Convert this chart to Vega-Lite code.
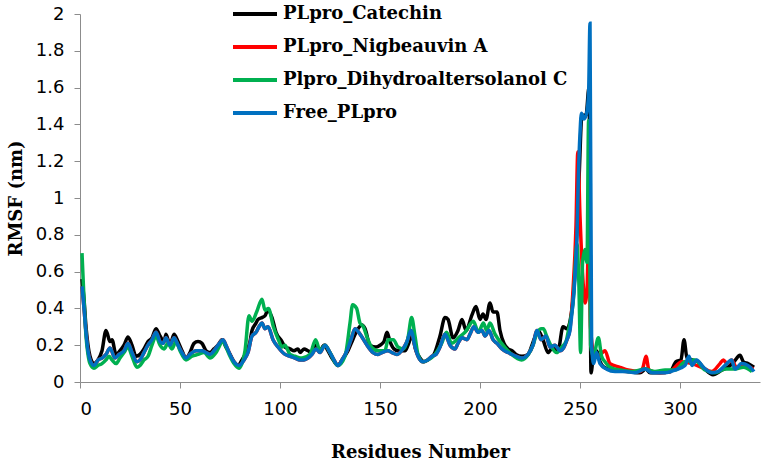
{
  "$schema": "https://vega.github.io/schema/vega-lite/v6.json",
  "width": 680,
  "height": 368,
  "autosize": "none",
  "padding": {"left": 80, "top": 14, "right": 5, "bottom": 80},
  "data": {
    "values": [
      {"series": "PLpro_Catechin", "residue": 1, "rmsf": 0.56},
      {"series": "PLpro_Catechin", "residue": 2, "rmsf": 0.45},
      {"series": "PLpro_Catechin", "residue": 3, "rmsf": 0.3},
      {"series": "PLpro_Catechin", "residue": 4, "rmsf": 0.2},
      {"series": "PLpro_Catechin", "residue": 5, "rmsf": 0.14},
      {"series": "PLpro_Catechin", "residue": 7, "rmsf": 0.1},
      {"series": "PLpro_Catechin", "residue": 9, "rmsf": 0.12},
      {"series": "PLpro_Catechin", "residue": 11, "rmsf": 0.17},
      {"series": "PLpro_Catechin", "residue": 13, "rmsf": 0.28},
      {"series": "PLpro_Catechin", "residue": 15, "rmsf": 0.22},
      {"series": "PLpro_Catechin", "residue": 16, "rmsf": 0.23},
      {"series": "PLpro_Catechin", "residue": 18, "rmsf": 0.15},
      {"series": "PLpro_Catechin", "residue": 20, "rmsf": 0.17},
      {"series": "PLpro_Catechin", "residue": 22, "rmsf": 0.2},
      {"series": "PLpro_Catechin", "residue": 24, "rmsf": 0.245},
      {"series": "PLpro_Catechin", "residue": 26, "rmsf": 0.2},
      {"series": "PLpro_Catechin", "residue": 28, "rmsf": 0.14},
      {"series": "PLpro_Catechin", "residue": 30, "rmsf": 0.15},
      {"series": "PLpro_Catechin", "residue": 32, "rmsf": 0.18},
      {"series": "PLpro_Catechin", "residue": 34, "rmsf": 0.22},
      {"series": "PLpro_Catechin", "residue": 36, "rmsf": 0.24},
      {"series": "PLpro_Catechin", "residue": 38, "rmsf": 0.29},
      {"series": "PLpro_Catechin", "residue": 40, "rmsf": 0.25},
      {"series": "PLpro_Catechin", "residue": 42, "rmsf": 0.22},
      {"series": "PLpro_Catechin", "residue": 43, "rmsf": 0.26},
      {"series": "PLpro_Catechin", "residue": 45, "rmsf": 0.2},
      {"series": "PLpro_Catechin", "residue": 47, "rmsf": 0.26},
      {"series": "PLpro_Catechin", "residue": 49, "rmsf": 0.22},
      {"series": "PLpro_Catechin", "residue": 51, "rmsf": 0.17},
      {"series": "PLpro_Catechin", "residue": 53, "rmsf": 0.13},
      {"series": "PLpro_Catechin", "residue": 55, "rmsf": 0.16},
      {"series": "PLpro_Catechin", "residue": 57, "rmsf": 0.21},
      {"series": "PLpro_Catechin", "residue": 59, "rmsf": 0.22},
      {"series": "PLpro_Catechin", "residue": 61, "rmsf": 0.21},
      {"series": "PLpro_Catechin", "residue": 63, "rmsf": 0.17},
      {"series": "PLpro_Catechin", "residue": 65, "rmsf": 0.16},
      {"series": "PLpro_Catechin", "residue": 67, "rmsf": 0.18},
      {"series": "PLpro_Catechin", "residue": 69, "rmsf": 0.2},
      {"series": "PLpro_Catechin", "residue": 71, "rmsf": 0.23},
      {"series": "PLpro_Catechin", "residue": 73, "rmsf": 0.19},
      {"series": "PLpro_Catechin", "residue": 75, "rmsf": 0.15},
      {"series": "PLpro_Catechin", "residue": 77, "rmsf": 0.11},
      {"series": "PLpro_Catechin", "residue": 79, "rmsf": 0.09},
      {"series": "PLpro_Catechin", "residue": 81, "rmsf": 0.12},
      {"series": "PLpro_Catechin", "residue": 83, "rmsf": 0.16},
      {"series": "PLpro_Catechin", "residue": 85, "rmsf": 0.22},
      {"series": "PLpro_Catechin", "residue": 86, "rmsf": 0.28},
      {"series": "PLpro_Catechin", "residue": 88, "rmsf": 0.32},
      {"series": "PLpro_Catechin", "residue": 89, "rmsf": 0.34},
      {"series": "PLpro_Catechin", "residue": 91, "rmsf": 0.35},
      {"series": "PLpro_Catechin", "residue": 92.5, "rmsf": 0.36},
      {"series": "PLpro_Catechin", "residue": 94, "rmsf": 0.39},
      {"series": "PLpro_Catechin", "residue": 96, "rmsf": 0.35},
      {"series": "PLpro_Catechin", "residue": 98, "rmsf": 0.27},
      {"series": "PLpro_Catechin", "residue": 101, "rmsf": 0.22},
      {"series": "PLpro_Catechin", "residue": 102.5, "rmsf": 0.19},
      {"series": "PLpro_Catechin", "residue": 105, "rmsf": 0.18},
      {"series": "PLpro_Catechin", "residue": 107, "rmsf": 0.17},
      {"series": "PLpro_Catechin", "residue": 109, "rmsf": 0.18},
      {"series": "PLpro_Catechin", "residue": 110, "rmsf": 0.16},
      {"series": "PLpro_Catechin", "residue": 112, "rmsf": 0.18},
      {"series": "PLpro_Catechin", "residue": 114, "rmsf": 0.17},
      {"series": "PLpro_Catechin", "residue": 116, "rmsf": 0.16},
      {"series": "PLpro_Catechin", "residue": 118, "rmsf": 0.2},
      {"series": "PLpro_Catechin", "residue": 120, "rmsf": 0.17},
      {"series": "PLpro_Catechin", "residue": 122, "rmsf": 0.2},
      {"series": "PLpro_Catechin", "residue": 124, "rmsf": 0.17},
      {"series": "PLpro_Catechin", "residue": 126, "rmsf": 0.13},
      {"series": "PLpro_Catechin", "residue": 129, "rmsf": 0.09},
      {"series": "PLpro_Catechin", "residue": 131, "rmsf": 0.12},
      {"series": "PLpro_Catechin", "residue": 134, "rmsf": 0.17},
      {"series": "PLpro_Catechin", "residue": 136, "rmsf": 0.22},
      {"series": "PLpro_Catechin", "residue": 138, "rmsf": 0.27},
      {"series": "PLpro_Catechin", "residue": 141, "rmsf": 0.31},
      {"series": "PLpro_Catechin", "residue": 142.5, "rmsf": 0.29},
      {"series": "PLpro_Catechin", "residue": 145, "rmsf": 0.2},
      {"series": "PLpro_Catechin", "residue": 148, "rmsf": 0.19},
      {"series": "PLpro_Catechin", "residue": 150, "rmsf": 0.2},
      {"series": "PLpro_Catechin", "residue": 152, "rmsf": 0.22},
      {"series": "PLpro_Catechin", "residue": 153.5, "rmsf": 0.27},
      {"series": "PLpro_Catechin", "residue": 155, "rmsf": 0.22},
      {"series": "PLpro_Catechin", "residue": 157, "rmsf": 0.18},
      {"series": "PLpro_Catechin", "residue": 159, "rmsf": 0.17},
      {"series": "PLpro_Catechin", "residue": 162.5, "rmsf": 0.17},
      {"series": "PLpro_Catechin", "residue": 164, "rmsf": 0.2},
      {"series": "PLpro_Catechin", "residue": 166, "rmsf": 0.25},
      {"series": "PLpro_Catechin", "residue": 168, "rmsf": 0.17},
      {"series": "PLpro_Catechin", "residue": 170, "rmsf": 0.13},
      {"series": "PLpro_Catechin", "residue": 172, "rmsf": 0.11},
      {"series": "PLpro_Catechin", "residue": 175, "rmsf": 0.13},
      {"series": "PLpro_Catechin", "residue": 177, "rmsf": 0.15},
      {"series": "PLpro_Catechin", "residue": 180, "rmsf": 0.25},
      {"series": "PLpro_Catechin", "residue": 182.5, "rmsf": 0.35},
      {"series": "PLpro_Catechin", "residue": 184, "rmsf": 0.34},
      {"series": "PLpro_Catechin", "residue": 186.5, "rmsf": 0.24},
      {"series": "PLpro_Catechin", "residue": 189, "rmsf": 0.28},
      {"series": "PLpro_Catechin", "residue": 191, "rmsf": 0.34},
      {"series": "PLpro_Catechin", "residue": 193, "rmsf": 0.28},
      {"series": "PLpro_Catechin", "residue": 196, "rmsf": 0.365},
      {"series": "PLpro_Catechin", "residue": 198, "rmsf": 0.41},
      {"series": "PLpro_Catechin", "residue": 200, "rmsf": 0.34},
      {"series": "PLpro_Catechin", "residue": 201.5, "rmsf": 0.37},
      {"series": "PLpro_Catechin", "residue": 203, "rmsf": 0.34},
      {"series": "PLpro_Catechin", "residue": 205, "rmsf": 0.43},
      {"series": "PLpro_Catechin", "residue": 206.5, "rmsf": 0.38},
      {"series": "PLpro_Catechin", "residue": 208.5, "rmsf": 0.38},
      {"series": "PLpro_Catechin", "residue": 210, "rmsf": 0.28},
      {"series": "PLpro_Catechin", "residue": 212, "rmsf": 0.21},
      {"series": "PLpro_Catechin", "residue": 214, "rmsf": 0.18},
      {"series": "PLpro_Catechin", "residue": 216, "rmsf": 0.17},
      {"series": "PLpro_Catechin", "residue": 218, "rmsf": 0.15},
      {"series": "PLpro_Catechin", "residue": 221, "rmsf": 0.14},
      {"series": "PLpro_Catechin", "residue": 224, "rmsf": 0.15},
      {"series": "PLpro_Catechin", "residue": 226, "rmsf": 0.2},
      {"series": "PLpro_Catechin", "residue": 228, "rmsf": 0.26},
      {"series": "PLpro_Catechin", "residue": 229, "rmsf": 0.28},
      {"series": "PLpro_Catechin", "residue": 231.5, "rmsf": 0.23},
      {"series": "PLpro_Catechin", "residue": 234, "rmsf": 0.16},
      {"series": "PLpro_Catechin", "residue": 236.5, "rmsf": 0.19},
      {"series": "PLpro_Catechin", "residue": 239, "rmsf": 0.17},
      {"series": "PLpro_Catechin", "residue": 241.5, "rmsf": 0.3},
      {"series": "PLpro_Catechin", "residue": 243.5, "rmsf": 0.29},
      {"series": "PLpro_Catechin", "residue": 245, "rmsf": 0.33},
      {"series": "PLpro_Catechin", "residue": 246.5, "rmsf": 0.45},
      {"series": "PLpro_Catechin", "residue": 248, "rmsf": 0.7},
      {"series": "PLpro_Catechin", "residue": 249.5, "rmsf": 1.1},
      {"series": "PLpro_Catechin", "residue": 251, "rmsf": 1.45},
      {"series": "PLpro_Catechin", "residue": 253, "rmsf": 1.45},
      {"series": "PLpro_Catechin", "residue": 254.5, "rmsf": 1.6},
      {"series": "PLpro_Catechin", "residue": 255.5, "rmsf": 0.05},
      {"series": "PLpro_Catechin", "residue": 256.7, "rmsf": 0.14},
      {"series": "PLpro_Catechin", "residue": 258.3, "rmsf": 0.17},
      {"series": "PLpro_Catechin", "residue": 260, "rmsf": 0.11},
      {"series": "PLpro_Catechin", "residue": 262, "rmsf": 0.08},
      {"series": "PLpro_Catechin", "residue": 265, "rmsf": 0.07},
      {"series": "PLpro_Catechin", "residue": 270, "rmsf": 0.06},
      {"series": "PLpro_Catechin", "residue": 275, "rmsf": 0.055},
      {"series": "PLpro_Catechin", "residue": 280, "rmsf": 0.05},
      {"series": "PLpro_Catechin", "residue": 283, "rmsf": 0.07},
      {"series": "PLpro_Catechin", "residue": 285, "rmsf": 0.05},
      {"series": "PLpro_Catechin", "residue": 290, "rmsf": 0.05},
      {"series": "PLpro_Catechin", "residue": 295, "rmsf": 0.055},
      {"series": "PLpro_Catechin", "residue": 298, "rmsf": 0.11},
      {"series": "PLpro_Catechin", "residue": 300.5, "rmsf": 0.12},
      {"series": "PLpro_Catechin", "residue": 302, "rmsf": 0.23},
      {"series": "PLpro_Catechin", "residue": 303.5, "rmsf": 0.13},
      {"series": "PLpro_Catechin", "residue": 306, "rmsf": 0.12},
      {"series": "PLpro_Catechin", "residue": 309, "rmsf": 0.11},
      {"series": "PLpro_Catechin", "residue": 312.5, "rmsf": 0.07},
      {"series": "PLpro_Catechin", "residue": 316.5, "rmsf": 0.04},
      {"series": "PLpro_Catechin", "residue": 321, "rmsf": 0.065},
      {"series": "PLpro_Catechin", "residue": 324, "rmsf": 0.08},
      {"series": "PLpro_Catechin", "residue": 327, "rmsf": 0.11},
      {"series": "PLpro_Catechin", "residue": 330, "rmsf": 0.145},
      {"series": "PLpro_Catechin", "residue": 331.7, "rmsf": 0.11},
      {"series": "PLpro_Catechin", "residue": 334, "rmsf": 0.1},
      {"series": "PLpro_Catechin", "residue": 337, "rmsf": 0.08},

      {"series": "PLpro_Nigbeauvin A", "residue": 1, "rmsf": 0.52},
      {"series": "PLpro_Nigbeauvin A", "residue": 2, "rmsf": 0.4},
      {"series": "PLpro_Nigbeauvin A", "residue": 3, "rmsf": 0.27},
      {"series": "PLpro_Nigbeauvin A", "residue": 4, "rmsf": 0.17},
      {"series": "PLpro_Nigbeauvin A", "residue": 5, "rmsf": 0.12},
      {"series": "PLpro_Nigbeauvin A", "residue": 7, "rmsf": 0.09},
      {"series": "PLpro_Nigbeauvin A", "residue": 9, "rmsf": 0.12},
      {"series": "PLpro_Nigbeauvin A", "residue": 11, "rmsf": 0.13},
      {"series": "PLpro_Nigbeauvin A", "residue": 13, "rmsf": 0.15},
      {"series": "PLpro_Nigbeauvin A", "residue": 15, "rmsf": 0.185},
      {"series": "PLpro_Nigbeauvin A", "residue": 17.5, "rmsf": 0.13},
      {"series": "PLpro_Nigbeauvin A", "residue": 19.5, "rmsf": 0.15},
      {"series": "PLpro_Nigbeauvin A", "residue": 22, "rmsf": 0.17},
      {"series": "PLpro_Nigbeauvin A", "residue": 24, "rmsf": 0.21},
      {"series": "PLpro_Nigbeauvin A", "residue": 26, "rmsf": 0.16},
      {"series": "PLpro_Nigbeauvin A", "residue": 28.5, "rmsf": 0.11},
      {"series": "PLpro_Nigbeauvin A", "residue": 30, "rmsf": 0.12},
      {"series": "PLpro_Nigbeauvin A", "residue": 32, "rmsf": 0.16},
      {"series": "PLpro_Nigbeauvin A", "residue": 34, "rmsf": 0.2},
      {"series": "PLpro_Nigbeauvin A", "residue": 36, "rmsf": 0.23},
      {"series": "PLpro_Nigbeauvin A", "residue": 38, "rmsf": 0.27},
      {"series": "PLpro_Nigbeauvin A", "residue": 40, "rmsf": 0.22},
      {"series": "PLpro_Nigbeauvin A", "residue": 41.5, "rmsf": 0.21},
      {"series": "PLpro_Nigbeauvin A", "residue": 43, "rmsf": 0.24},
      {"series": "PLpro_Nigbeauvin A", "residue": 45, "rmsf": 0.2},
      {"series": "PLpro_Nigbeauvin A", "residue": 47, "rmsf": 0.24},
      {"series": "PLpro_Nigbeauvin A", "residue": 49, "rmsf": 0.2},
      {"series": "PLpro_Nigbeauvin A", "residue": 51, "rmsf": 0.16},
      {"series": "PLpro_Nigbeauvin A", "residue": 53, "rmsf": 0.13},
      {"series": "PLpro_Nigbeauvin A", "residue": 55, "rmsf": 0.15},
      {"series": "PLpro_Nigbeauvin A", "residue": 58, "rmsf": 0.17},
      {"series": "PLpro_Nigbeauvin A", "residue": 61, "rmsf": 0.17},
      {"series": "PLpro_Nigbeauvin A", "residue": 63, "rmsf": 0.16},
      {"series": "PLpro_Nigbeauvin A", "residue": 65, "rmsf": 0.15},
      {"series": "PLpro_Nigbeauvin A", "residue": 67, "rmsf": 0.17},
      {"series": "PLpro_Nigbeauvin A", "residue": 69, "rmsf": 0.2},
      {"series": "PLpro_Nigbeauvin A", "residue": 71.5, "rmsf": 0.23},
      {"series": "PLpro_Nigbeauvin A", "residue": 73, "rmsf": 0.2},
      {"series": "PLpro_Nigbeauvin A", "residue": 75, "rmsf": 0.15},
      {"series": "PLpro_Nigbeauvin A", "residue": 77, "rmsf": 0.11},
      {"series": "PLpro_Nigbeauvin A", "residue": 79.5, "rmsf": 0.09},
      {"series": "PLpro_Nigbeauvin A", "residue": 82, "rmsf": 0.12},
      {"series": "PLpro_Nigbeauvin A", "residue": 84, "rmsf": 0.16},
      {"series": "PLpro_Nigbeauvin A", "residue": 86, "rmsf": 0.25},
      {"series": "PLpro_Nigbeauvin A", "residue": 88, "rmsf": 0.27},
      {"series": "PLpro_Nigbeauvin A", "residue": 89.5, "rmsf": 0.3},
      {"series": "PLpro_Nigbeauvin A", "residue": 91, "rmsf": 0.32},
      {"series": "PLpro_Nigbeauvin A", "residue": 92.5, "rmsf": 0.29},
      {"series": "PLpro_Nigbeauvin A", "residue": 94, "rmsf": 0.3},
      {"series": "PLpro_Nigbeauvin A", "residue": 96.5, "rmsf": 0.23},
      {"series": "PLpro_Nigbeauvin A", "residue": 99, "rmsf": 0.19},
      {"series": "PLpro_Nigbeauvin A", "residue": 102.5, "rmsf": 0.15},
      {"series": "PLpro_Nigbeauvin A", "residue": 105, "rmsf": 0.14},
      {"series": "PLpro_Nigbeauvin A", "residue": 107.5, "rmsf": 0.13},
      {"series": "PLpro_Nigbeauvin A", "residue": 110, "rmsf": 0.12},
      {"series": "PLpro_Nigbeauvin A", "residue": 112, "rmsf": 0.12},
      {"series": "PLpro_Nigbeauvin A", "residue": 114, "rmsf": 0.13},
      {"series": "PLpro_Nigbeauvin A", "residue": 116, "rmsf": 0.15},
      {"series": "PLpro_Nigbeauvin A", "residue": 118, "rmsf": 0.18},
      {"series": "PLpro_Nigbeauvin A", "residue": 120, "rmsf": 0.16},
      {"series": "PLpro_Nigbeauvin A", "residue": 122.5, "rmsf": 0.2},
      {"series": "PLpro_Nigbeauvin A", "residue": 125, "rmsf": 0.16},
      {"series": "PLpro_Nigbeauvin A", "residue": 127, "rmsf": 0.12},
      {"series": "PLpro_Nigbeauvin A", "residue": 129, "rmsf": 0.09},
      {"series": "PLpro_Nigbeauvin A", "residue": 131, "rmsf": 0.12},
      {"series": "PLpro_Nigbeauvin A", "residue": 133.5, "rmsf": 0.17},
      {"series": "PLpro_Nigbeauvin A", "residue": 135.5, "rmsf": 0.23},
      {"series": "PLpro_Nigbeauvin A", "residue": 137.5, "rmsf": 0.29},
      {"series": "PLpro_Nigbeauvin A", "residue": 140, "rmsf": 0.26},
      {"series": "PLpro_Nigbeauvin A", "residue": 143.5, "rmsf": 0.2},
      {"series": "PLpro_Nigbeauvin A", "residue": 146.5, "rmsf": 0.16},
      {"series": "PLpro_Nigbeauvin A", "residue": 149, "rmsf": 0.15},
      {"series": "PLpro_Nigbeauvin A", "residue": 151, "rmsf": 0.16},
      {"series": "PLpro_Nigbeauvin A", "residue": 154, "rmsf": 0.17},
      {"series": "PLpro_Nigbeauvin A", "residue": 156, "rmsf": 0.16},
      {"series": "PLpro_Nigbeauvin A", "residue": 158.5, "rmsf": 0.15},
      {"series": "PLpro_Nigbeauvin A", "residue": 161.5, "rmsf": 0.18},
      {"series": "PLpro_Nigbeauvin A", "residue": 163.5, "rmsf": 0.22},
      {"series": "PLpro_Nigbeauvin A", "residue": 165.5, "rmsf": 0.28},
      {"series": "PLpro_Nigbeauvin A", "residue": 167.5, "rmsf": 0.19},
      {"series": "PLpro_Nigbeauvin A", "residue": 169, "rmsf": 0.14},
      {"series": "PLpro_Nigbeauvin A", "residue": 171.5, "rmsf": 0.11},
      {"series": "PLpro_Nigbeauvin A", "residue": 174, "rmsf": 0.12},
      {"series": "PLpro_Nigbeauvin A", "residue": 176, "rmsf": 0.14},
      {"series": "PLpro_Nigbeauvin A", "residue": 178, "rmsf": 0.15},
      {"series": "PLpro_Nigbeauvin A", "residue": 180, "rmsf": 0.19},
      {"series": "PLpro_Nigbeauvin A", "residue": 182.5, "rmsf": 0.26},
      {"series": "PLpro_Nigbeauvin A", "residue": 185, "rmsf": 0.2},
      {"series": "PLpro_Nigbeauvin A", "residue": 187.5, "rmsf": 0.18},
      {"series": "PLpro_Nigbeauvin A", "residue": 189, "rmsf": 0.21},
      {"series": "PLpro_Nigbeauvin A", "residue": 191, "rmsf": 0.24},
      {"series": "PLpro_Nigbeauvin A", "residue": 193.5, "rmsf": 0.23},
      {"series": "PLpro_Nigbeauvin A", "residue": 195, "rmsf": 0.26},
      {"series": "PLpro_Nigbeauvin A", "residue": 197, "rmsf": 0.3},
      {"series": "PLpro_Nigbeauvin A", "residue": 199, "rmsf": 0.27},
      {"series": "PLpro_Nigbeauvin A", "residue": 201, "rmsf": 0.28},
      {"series": "PLpro_Nigbeauvin A", "residue": 202.5, "rmsf": 0.25},
      {"series": "PLpro_Nigbeauvin A", "residue": 204.5, "rmsf": 0.28},
      {"series": "PLpro_Nigbeauvin A", "residue": 206.5, "rmsf": 0.23},
      {"series": "PLpro_Nigbeauvin A", "residue": 208.5, "rmsf": 0.21},
      {"series": "PLpro_Nigbeauvin A", "residue": 211, "rmsf": 0.18},
      {"series": "PLpro_Nigbeauvin A", "residue": 214, "rmsf": 0.16},
      {"series": "PLpro_Nigbeauvin A", "residue": 216, "rmsf": 0.15},
      {"series": "PLpro_Nigbeauvin A", "residue": 218, "rmsf": 0.14},
      {"series": "PLpro_Nigbeauvin A", "residue": 221, "rmsf": 0.13},
      {"series": "PLpro_Nigbeauvin A", "residue": 224, "rmsf": 0.15},
      {"series": "PLpro_Nigbeauvin A", "residue": 226.5, "rmsf": 0.2},
      {"series": "PLpro_Nigbeauvin A", "residue": 228.5, "rmsf": 0.28},
      {"series": "PLpro_Nigbeauvin A", "residue": 230.5, "rmsf": 0.23},
      {"series": "PLpro_Nigbeauvin A", "residue": 233, "rmsf": 0.25},
      {"series": "PLpro_Nigbeauvin A", "residue": 235, "rmsf": 0.19},
      {"series": "PLpro_Nigbeauvin A", "residue": 237.5, "rmsf": 0.2},
      {"series": "PLpro_Nigbeauvin A", "residue": 240, "rmsf": 0.17},
      {"series": "PLpro_Nigbeauvin A", "residue": 242, "rmsf": 0.19},
      {"series": "PLpro_Nigbeauvin A", "residue": 243.5, "rmsf": 0.23},
      {"series": "PLpro_Nigbeauvin A", "residue": 245, "rmsf": 0.29},
      {"series": "PLpro_Nigbeauvin A", "residue": 246.5, "rmsf": 0.5},
      {"series": "PLpro_Nigbeauvin A", "residue": 248, "rmsf": 0.85},
      {"series": "PLpro_Nigbeauvin A", "residue": 248.9, "rmsf": 1.25},
      {"series": "PLpro_Nigbeauvin A", "residue": 250, "rmsf": 0.9},
      {"series": "PLpro_Nigbeauvin A", "residue": 251.5, "rmsf": 0.55},
      {"series": "PLpro_Nigbeauvin A", "residue": 252.5, "rmsf": 0.43},
      {"series": "PLpro_Nigbeauvin A", "residue": 253.5, "rmsf": 0.5},
      {"series": "PLpro_Nigbeauvin A", "residue": 254.5, "rmsf": 0.9},
      {"series": "PLpro_Nigbeauvin A", "residue": 255.3, "rmsf": 0.3},
      {"series": "PLpro_Nigbeauvin A", "residue": 256.7, "rmsf": 0.17},
      {"series": "PLpro_Nigbeauvin A", "residue": 259.2, "rmsf": 0.14},
      {"series": "PLpro_Nigbeauvin A", "residue": 262.5, "rmsf": 0.17},
      {"series": "PLpro_Nigbeauvin A", "residue": 265, "rmsf": 0.1},
      {"series": "PLpro_Nigbeauvin A", "residue": 270, "rmsf": 0.08},
      {"series": "PLpro_Nigbeauvin A", "residue": 274, "rmsf": 0.065},
      {"series": "PLpro_Nigbeauvin A", "residue": 280, "rmsf": 0.057},
      {"series": "PLpro_Nigbeauvin A", "residue": 281.5, "rmsf": 0.08},
      {"series": "PLpro_Nigbeauvin A", "residue": 283, "rmsf": 0.14},
      {"series": "PLpro_Nigbeauvin A", "residue": 284.5, "rmsf": 0.065},
      {"series": "PLpro_Nigbeauvin A", "residue": 290, "rmsf": 0.05},
      {"series": "PLpro_Nigbeauvin A", "residue": 295, "rmsf": 0.057},
      {"series": "PLpro_Nigbeauvin A", "residue": 297.5, "rmsf": 0.08},
      {"series": "PLpro_Nigbeauvin A", "residue": 300.8, "rmsf": 0.11},
      {"series": "PLpro_Nigbeauvin A", "residue": 305.8, "rmsf": 0.1},
      {"series": "PLpro_Nigbeauvin A", "residue": 310.8, "rmsf": 0.08},
      {"series": "PLpro_Nigbeauvin A", "residue": 315.8, "rmsf": 0.057},
      {"series": "PLpro_Nigbeauvin A", "residue": 320, "rmsf": 0.1},
      {"series": "PLpro_Nigbeauvin A", "residue": 321.7, "rmsf": 0.12},
      {"series": "PLpro_Nigbeauvin A", "residue": 323.5, "rmsf": 0.1},
      {"series": "PLpro_Nigbeauvin A", "residue": 325.8, "rmsf": 0.12},
      {"series": "PLpro_Nigbeauvin A", "residue": 328.3, "rmsf": 0.08},
      {"series": "PLpro_Nigbeauvin A", "residue": 332.5, "rmsf": 0.09},
      {"series": "PLpro_Nigbeauvin A", "residue": 336.7, "rmsf": 0.07},

      {"series": "Plpro_Dihydroaltersolanol C", "residue": 1, "rmsf": 0.7},
      {"series": "Plpro_Dihydroaltersolanol C", "residue": 2, "rmsf": 0.45},
      {"series": "Plpro_Dihydroaltersolanol C", "residue": 3, "rmsf": 0.25},
      {"series": "Plpro_Dihydroaltersolanol C", "residue": 4, "rmsf": 0.15},
      {"series": "Plpro_Dihydroaltersolanol C", "residue": 5, "rmsf": 0.1},
      {"series": "Plpro_Dihydroaltersolanol C", "residue": 7, "rmsf": 0.075},
      {"series": "Plpro_Dihydroaltersolanol C", "residue": 9, "rmsf": 0.09},
      {"series": "Plpro_Dihydroaltersolanol C", "residue": 11, "rmsf": 0.1},
      {"series": "Plpro_Dihydroaltersolanol C", "residue": 13, "rmsf": 0.12},
      {"series": "Plpro_Dihydroaltersolanol C", "residue": 14.5, "rmsf": 0.14},
      {"series": "Plpro_Dihydroaltersolanol C", "residue": 16, "rmsf": 0.12},
      {"series": "Plpro_Dihydroaltersolanol C", "residue": 18, "rmsf": 0.1},
      {"series": "Plpro_Dihydroaltersolanol C", "residue": 20, "rmsf": 0.13},
      {"series": "Plpro_Dihydroaltersolanol C", "residue": 22, "rmsf": 0.16},
      {"series": "Plpro_Dihydroaltersolanol C", "residue": 24, "rmsf": 0.19},
      {"series": "Plpro_Dihydroaltersolanol C", "residue": 26, "rmsf": 0.14},
      {"series": "Plpro_Dihydroaltersolanol C", "residue": 28.5, "rmsf": 0.08},
      {"series": "Plpro_Dihydroaltersolanol C", "residue": 30, "rmsf": 0.09},
      {"series": "Plpro_Dihydroaltersolanol C", "residue": 32, "rmsf": 0.12},
      {"series": "Plpro_Dihydroaltersolanol C", "residue": 34, "rmsf": 0.14},
      {"series": "Plpro_Dihydroaltersolanol C", "residue": 36, "rmsf": 0.2},
      {"series": "Plpro_Dihydroaltersolanol C", "residue": 38, "rmsf": 0.25},
      {"series": "Plpro_Dihydroaltersolanol C", "residue": 40, "rmsf": 0.2},
      {"series": "Plpro_Dihydroaltersolanol C", "residue": 42, "rmsf": 0.18},
      {"series": "Plpro_Dihydroaltersolanol C", "residue": 44, "rmsf": 0.21},
      {"series": "Plpro_Dihydroaltersolanol C", "residue": 46, "rmsf": 0.18},
      {"series": "Plpro_Dihydroaltersolanol C", "residue": 48, "rmsf": 0.22},
      {"series": "Plpro_Dihydroaltersolanol C", "residue": 50, "rmsf": 0.17},
      {"series": "Plpro_Dihydroaltersolanol C", "residue": 53, "rmsf": 0.12},
      {"series": "Plpro_Dihydroaltersolanol C", "residue": 56, "rmsf": 0.14},
      {"series": "Plpro_Dihydroaltersolanol C", "residue": 59, "rmsf": 0.15},
      {"series": "Plpro_Dihydroaltersolanol C", "residue": 62, "rmsf": 0.16},
      {"series": "Plpro_Dihydroaltersolanol C", "residue": 65, "rmsf": 0.13},
      {"series": "Plpro_Dihydroaltersolanol C", "residue": 68, "rmsf": 0.16},
      {"series": "Plpro_Dihydroaltersolanol C", "residue": 71.5, "rmsf": 0.22},
      {"series": "Plpro_Dihydroaltersolanol C", "residue": 73, "rmsf": 0.19},
      {"series": "Plpro_Dihydroaltersolanol C", "residue": 75, "rmsf": 0.14},
      {"series": "Plpro_Dihydroaltersolanol C", "residue": 77, "rmsf": 0.1},
      {"series": "Plpro_Dihydroaltersolanol C", "residue": 79.5, "rmsf": 0.075},
      {"series": "Plpro_Dihydroaltersolanol C", "residue": 82.5, "rmsf": 0.17},
      {"series": "Plpro_Dihydroaltersolanol C", "residue": 84.5, "rmsf": 0.36},
      {"series": "Plpro_Dihydroaltersolanol C", "residue": 86, "rmsf": 0.33},
      {"series": "Plpro_Dihydroaltersolanol C", "residue": 88.3, "rmsf": 0.38},
      {"series": "Plpro_Dihydroaltersolanol C", "residue": 91, "rmsf": 0.45},
      {"series": "Plpro_Dihydroaltersolanol C", "residue": 92.5, "rmsf": 0.39},
      {"series": "Plpro_Dihydroaltersolanol C", "residue": 94.2, "rmsf": 0.4},
      {"series": "Plpro_Dihydroaltersolanol C", "residue": 96.7, "rmsf": 0.3},
      {"series": "Plpro_Dihydroaltersolanol C", "residue": 99.2, "rmsf": 0.23},
      {"series": "Plpro_Dihydroaltersolanol C", "residue": 101, "rmsf": 0.19},
      {"series": "Plpro_Dihydroaltersolanol C", "residue": 102.5, "rmsf": 0.2},
      {"series": "Plpro_Dihydroaltersolanol C", "residue": 105, "rmsf": 0.15},
      {"series": "Plpro_Dihydroaltersolanol C", "residue": 107.5, "rmsf": 0.14},
      {"series": "Plpro_Dihydroaltersolanol C", "residue": 111, "rmsf": 0.13},
      {"series": "Plpro_Dihydroaltersolanol C", "residue": 115, "rmsf": 0.15},
      {"series": "Plpro_Dihydroaltersolanol C", "residue": 117.8, "rmsf": 0.23},
      {"series": "Plpro_Dihydroaltersolanol C", "residue": 120, "rmsf": 0.17},
      {"series": "Plpro_Dihydroaltersolanol C", "residue": 122.5, "rmsf": 0.2},
      {"series": "Plpro_Dihydroaltersolanol C", "residue": 125, "rmsf": 0.16},
      {"series": "Plpro_Dihydroaltersolanol C", "residue": 128.8, "rmsf": 0.09},
      {"series": "Plpro_Dihydroaltersolanol C", "residue": 132.5, "rmsf": 0.14},
      {"series": "Plpro_Dihydroaltersolanol C", "residue": 135, "rmsf": 0.32},
      {"series": "Plpro_Dihydroaltersolanol C", "residue": 136.3, "rmsf": 0.42},
      {"series": "Plpro_Dihydroaltersolanol C", "residue": 138.3, "rmsf": 0.4},
      {"series": "Plpro_Dihydroaltersolanol C", "residue": 140, "rmsf": 0.32},
      {"series": "Plpro_Dihydroaltersolanol C", "residue": 141.7, "rmsf": 0.3},
      {"series": "Plpro_Dihydroaltersolanol C", "residue": 143.3, "rmsf": 0.25},
      {"series": "Plpro_Dihydroaltersolanol C", "residue": 145.8, "rmsf": 0.19},
      {"series": "Plpro_Dihydroaltersolanol C", "residue": 149, "rmsf": 0.17},
      {"series": "Plpro_Dihydroaltersolanol C", "residue": 152.5, "rmsf": 0.17},
      {"series": "Plpro_Dihydroaltersolanol C", "residue": 154, "rmsf": 0.23},
      {"series": "Plpro_Dihydroaltersolanol C", "residue": 156.7, "rmsf": 0.23},
      {"series": "Plpro_Dihydroaltersolanol C", "residue": 159, "rmsf": 0.19},
      {"series": "Plpro_Dihydroaltersolanol C", "residue": 161.7, "rmsf": 0.18},
      {"series": "Plpro_Dihydroaltersolanol C", "residue": 164, "rmsf": 0.24},
      {"series": "Plpro_Dihydroaltersolanol C", "residue": 165.8, "rmsf": 0.35},
      {"series": "Plpro_Dihydroaltersolanol C", "residue": 167.5, "rmsf": 0.25},
      {"series": "Plpro_Dihydroaltersolanol C", "residue": 169, "rmsf": 0.15},
      {"series": "Plpro_Dihydroaltersolanol C", "residue": 171.5, "rmsf": 0.11},
      {"series": "Plpro_Dihydroaltersolanol C", "residue": 174, "rmsf": 0.12},
      {"series": "Plpro_Dihydroaltersolanol C", "residue": 177.5, "rmsf": 0.15},
      {"series": "Plpro_Dihydroaltersolanol C", "residue": 180.8, "rmsf": 0.21},
      {"series": "Plpro_Dihydroaltersolanol C", "residue": 183.3, "rmsf": 0.27},
      {"series": "Plpro_Dihydroaltersolanol C", "residue": 185.8, "rmsf": 0.21},
      {"series": "Plpro_Dihydroaltersolanol C", "residue": 189.2, "rmsf": 0.24},
      {"series": "Plpro_Dihydroaltersolanol C", "residue": 192.5, "rmsf": 0.27},
      {"series": "Plpro_Dihydroaltersolanol C", "residue": 196.7, "rmsf": 0.33},
      {"series": "Plpro_Dihydroaltersolanol C", "residue": 199.2, "rmsf": 0.27},
      {"series": "Plpro_Dihydroaltersolanol C", "residue": 201.7, "rmsf": 0.32},
      {"series": "Plpro_Dihydroaltersolanol C", "residue": 203.3, "rmsf": 0.28},
      {"series": "Plpro_Dihydroaltersolanol C", "residue": 205, "rmsf": 0.32},
      {"series": "Plpro_Dihydroaltersolanol C", "residue": 207.5, "rmsf": 0.26},
      {"series": "Plpro_Dihydroaltersolanol C", "residue": 210.8, "rmsf": 0.21},
      {"series": "Plpro_Dihydroaltersolanol C", "residue": 215.8, "rmsf": 0.15},
      {"series": "Plpro_Dihydroaltersolanol C", "residue": 220.8, "rmsf": 0.12},
      {"series": "Plpro_Dihydroaltersolanol C", "residue": 224.2, "rmsf": 0.15},
      {"series": "Plpro_Dihydroaltersolanol C", "residue": 226.5, "rmsf": 0.2},
      {"series": "Plpro_Dihydroaltersolanol C", "residue": 228.3, "rmsf": 0.26},
      {"series": "Plpro_Dihydroaltersolanol C", "residue": 230.5, "rmsf": 0.29},
      {"series": "Plpro_Dihydroaltersolanol C", "residue": 231.7, "rmsf": 0.29},
      {"series": "Plpro_Dihydroaltersolanol C", "residue": 233.3, "rmsf": 0.25},
      {"series": "Plpro_Dihydroaltersolanol C", "residue": 235.8, "rmsf": 0.19},
      {"series": "Plpro_Dihydroaltersolanol C", "residue": 238.3, "rmsf": 0.16},
      {"series": "Plpro_Dihydroaltersolanol C", "residue": 240.8, "rmsf": 0.19},
      {"series": "Plpro_Dihydroaltersolanol C", "residue": 243, "rmsf": 0.22},
      {"series": "Plpro_Dihydroaltersolanol C", "residue": 244.2, "rmsf": 0.28},
      {"series": "Plpro_Dihydroaltersolanol C", "residue": 246.7, "rmsf": 0.45},
      {"series": "Plpro_Dihydroaltersolanol C", "residue": 248.5, "rmsf": 0.75},
      {"series": "Plpro_Dihydroaltersolanol C", "residue": 249.4, "rmsf": 0.55},
      {"series": "Plpro_Dihydroaltersolanol C", "residue": 250.3, "rmsf": 0.16},
      {"series": "Plpro_Dihydroaltersolanol C", "residue": 251.3, "rmsf": 0.65},
      {"series": "Plpro_Dihydroaltersolanol C", "residue": 252.5, "rmsf": 0.72},
      {"series": "Plpro_Dihydroaltersolanol C", "residue": 253.5, "rmsf": 0.65},
      {"series": "Plpro_Dihydroaltersolanol C", "residue": 254.3, "rmsf": 1.42},
      {"series": "Plpro_Dihydroaltersolanol C", "residue": 255.3, "rmsf": 0.2},
      {"series": "Plpro_Dihydroaltersolanol C", "residue": 256.7, "rmsf": 0.14},
      {"series": "Plpro_Dihydroaltersolanol C", "residue": 259.2, "rmsf": 0.24},
      {"series": "Plpro_Dihydroaltersolanol C", "residue": 260.8, "rmsf": 0.14},
      {"series": "Plpro_Dihydroaltersolanol C", "residue": 262.5, "rmsf": 0.11},
      {"series": "Plpro_Dihydroaltersolanol C", "residue": 265, "rmsf": 0.08},
      {"series": "Plpro_Dihydroaltersolanol C", "residue": 270, "rmsf": 0.065},
      {"series": "Plpro_Dihydroaltersolanol C", "residue": 275.8, "rmsf": 0.057},
      {"series": "Plpro_Dihydroaltersolanol C", "residue": 282.5, "rmsf": 0.07},
      {"series": "Plpro_Dihydroaltersolanol C", "residue": 287.5, "rmsf": 0.057},
      {"series": "Plpro_Dihydroaltersolanol C", "residue": 292.5, "rmsf": 0.065},
      {"series": "Plpro_Dihydroaltersolanol C", "residue": 297.5, "rmsf": 0.065},
      {"series": "Plpro_Dihydroaltersolanol C", "residue": 302.5, "rmsf": 0.11},
      {"series": "Plpro_Dihydroaltersolanol C", "residue": 307.5, "rmsf": 0.12},
      {"series": "Plpro_Dihydroaltersolanol C", "residue": 312.5, "rmsf": 0.065},
      {"series": "Plpro_Dihydroaltersolanol C", "residue": 317.5, "rmsf": 0.05},
      {"series": "Plpro_Dihydroaltersolanol C", "residue": 322.5, "rmsf": 0.07},
      {"series": "Plpro_Dihydroaltersolanol C", "residue": 327.5, "rmsf": 0.07},
      {"series": "Plpro_Dihydroaltersolanol C", "residue": 331.7, "rmsf": 0.08},
      {"series": "Plpro_Dihydroaltersolanol C", "residue": 336, "rmsf": 0.057},

      {"series": "Free_PLpro", "residue": 1, "rmsf": 0.52},
      {"series": "Free_PLpro", "residue": 2, "rmsf": 0.4},
      {"series": "Free_PLpro", "residue": 3, "rmsf": 0.27},
      {"series": "Free_PLpro", "residue": 4, "rmsf": 0.17},
      {"series": "Free_PLpro", "residue": 5, "rmsf": 0.12},
      {"series": "Free_PLpro", "residue": 7, "rmsf": 0.09},
      {"series": "Free_PLpro", "residue": 9, "rmsf": 0.12},
      {"series": "Free_PLpro", "residue": 11, "rmsf": 0.13},
      {"series": "Free_PLpro", "residue": 13, "rmsf": 0.15},
      {"series": "Free_PLpro", "residue": 15, "rmsf": 0.185},
      {"series": "Free_PLpro", "residue": 17.5, "rmsf": 0.13},
      {"series": "Free_PLpro", "residue": 19.5, "rmsf": 0.15},
      {"series": "Free_PLpro", "residue": 22, "rmsf": 0.17},
      {"series": "Free_PLpro", "residue": 24, "rmsf": 0.21},
      {"series": "Free_PLpro", "residue": 26, "rmsf": 0.16},
      {"series": "Free_PLpro", "residue": 28.5, "rmsf": 0.11},
      {"series": "Free_PLpro", "residue": 30, "rmsf": 0.12},
      {"series": "Free_PLpro", "residue": 32, "rmsf": 0.16},
      {"series": "Free_PLpro", "residue": 34, "rmsf": 0.2},
      {"series": "Free_PLpro", "residue": 36, "rmsf": 0.23},
      {"series": "Free_PLpro", "residue": 38, "rmsf": 0.27},
      {"series": "Free_PLpro", "residue": 40, "rmsf": 0.22},
      {"series": "Free_PLpro", "residue": 41.5, "rmsf": 0.21},
      {"series": "Free_PLpro", "residue": 43, "rmsf": 0.24},
      {"series": "Free_PLpro", "residue": 45, "rmsf": 0.2},
      {"series": "Free_PLpro", "residue": 47, "rmsf": 0.24},
      {"series": "Free_PLpro", "residue": 49, "rmsf": 0.2},
      {"series": "Free_PLpro", "residue": 51, "rmsf": 0.16},
      {"series": "Free_PLpro", "residue": 53, "rmsf": 0.13},
      {"series": "Free_PLpro", "residue": 55, "rmsf": 0.15},
      {"series": "Free_PLpro", "residue": 58, "rmsf": 0.17},
      {"series": "Free_PLpro", "residue": 61, "rmsf": 0.17},
      {"series": "Free_PLpro", "residue": 63, "rmsf": 0.16},
      {"series": "Free_PLpro", "residue": 65, "rmsf": 0.15},
      {"series": "Free_PLpro", "residue": 67, "rmsf": 0.17},
      {"series": "Free_PLpro", "residue": 69, "rmsf": 0.2},
      {"series": "Free_PLpro", "residue": 71.5, "rmsf": 0.23},
      {"series": "Free_PLpro", "residue": 73, "rmsf": 0.2},
      {"series": "Free_PLpro", "residue": 75, "rmsf": 0.15},
      {"series": "Free_PLpro", "residue": 77, "rmsf": 0.11},
      {"series": "Free_PLpro", "residue": 79.5, "rmsf": 0.09},
      {"series": "Free_PLpro", "residue": 82, "rmsf": 0.12},
      {"series": "Free_PLpro", "residue": 84, "rmsf": 0.16},
      {"series": "Free_PLpro", "residue": 86, "rmsf": 0.25},
      {"series": "Free_PLpro", "residue": 88, "rmsf": 0.27},
      {"series": "Free_PLpro", "residue": 89.5, "rmsf": 0.3},
      {"series": "Free_PLpro", "residue": 91, "rmsf": 0.32},
      {"series": "Free_PLpro", "residue": 92.5, "rmsf": 0.29},
      {"series": "Free_PLpro", "residue": 94, "rmsf": 0.3},
      {"series": "Free_PLpro", "residue": 96.5, "rmsf": 0.23},
      {"series": "Free_PLpro", "residue": 99, "rmsf": 0.19},
      {"series": "Free_PLpro", "residue": 102.5, "rmsf": 0.15},
      {"series": "Free_PLpro", "residue": 105, "rmsf": 0.14},
      {"series": "Free_PLpro", "residue": 107.5, "rmsf": 0.13},
      {"series": "Free_PLpro", "residue": 110, "rmsf": 0.12},
      {"series": "Free_PLpro", "residue": 112, "rmsf": 0.12},
      {"series": "Free_PLpro", "residue": 114, "rmsf": 0.13},
      {"series": "Free_PLpro", "residue": 116, "rmsf": 0.15},
      {"series": "Free_PLpro", "residue": 118, "rmsf": 0.18},
      {"series": "Free_PLpro", "residue": 120, "rmsf": 0.16},
      {"series": "Free_PLpro", "residue": 122.5, "rmsf": 0.2},
      {"series": "Free_PLpro", "residue": 125, "rmsf": 0.16},
      {"series": "Free_PLpro", "residue": 127, "rmsf": 0.12},
      {"series": "Free_PLpro", "residue": 129, "rmsf": 0.09},
      {"series": "Free_PLpro", "residue": 131, "rmsf": 0.12},
      {"series": "Free_PLpro", "residue": 133.5, "rmsf": 0.17},
      {"series": "Free_PLpro", "residue": 135.5, "rmsf": 0.23},
      {"series": "Free_PLpro", "residue": 137.5, "rmsf": 0.29},
      {"series": "Free_PLpro", "residue": 140, "rmsf": 0.26},
      {"series": "Free_PLpro", "residue": 143.5, "rmsf": 0.2},
      {"series": "Free_PLpro", "residue": 146.5, "rmsf": 0.16},
      {"series": "Free_PLpro", "residue": 149, "rmsf": 0.15},
      {"series": "Free_PLpro", "residue": 151, "rmsf": 0.16},
      {"series": "Free_PLpro", "residue": 154, "rmsf": 0.17},
      {"series": "Free_PLpro", "residue": 156, "rmsf": 0.16},
      {"series": "Free_PLpro", "residue": 158.5, "rmsf": 0.15},
      {"series": "Free_PLpro", "residue": 161.5, "rmsf": 0.18},
      {"series": "Free_PLpro", "residue": 163.5, "rmsf": 0.22},
      {"series": "Free_PLpro", "residue": 165.5, "rmsf": 0.28},
      {"series": "Free_PLpro", "residue": 167.5, "rmsf": 0.19},
      {"series": "Free_PLpro", "residue": 169, "rmsf": 0.14},
      {"series": "Free_PLpro", "residue": 171.5, "rmsf": 0.11},
      {"series": "Free_PLpro", "residue": 174, "rmsf": 0.12},
      {"series": "Free_PLpro", "residue": 176, "rmsf": 0.14},
      {"series": "Free_PLpro", "residue": 178, "rmsf": 0.15},
      {"series": "Free_PLpro", "residue": 180, "rmsf": 0.19},
      {"series": "Free_PLpro", "residue": 182.5, "rmsf": 0.26},
      {"series": "Free_PLpro", "residue": 185, "rmsf": 0.2},
      {"series": "Free_PLpro", "residue": 187.5, "rmsf": 0.18},
      {"series": "Free_PLpro", "residue": 189, "rmsf": 0.21},
      {"series": "Free_PLpro", "residue": 191, "rmsf": 0.24},
      {"series": "Free_PLpro", "residue": 193.5, "rmsf": 0.23},
      {"series": "Free_PLpro", "residue": 195, "rmsf": 0.26},
      {"series": "Free_PLpro", "residue": 197, "rmsf": 0.3},
      {"series": "Free_PLpro", "residue": 199, "rmsf": 0.27},
      {"series": "Free_PLpro", "residue": 201, "rmsf": 0.28},
      {"series": "Free_PLpro", "residue": 202.5, "rmsf": 0.25},
      {"series": "Free_PLpro", "residue": 204.5, "rmsf": 0.28},
      {"series": "Free_PLpro", "residue": 206.5, "rmsf": 0.23},
      {"series": "Free_PLpro", "residue": 208.5, "rmsf": 0.21},
      {"series": "Free_PLpro", "residue": 211, "rmsf": 0.18},
      {"series": "Free_PLpro", "residue": 214, "rmsf": 0.16},
      {"series": "Free_PLpro", "residue": 216, "rmsf": 0.15},
      {"series": "Free_PLpro", "residue": 218, "rmsf": 0.14},
      {"series": "Free_PLpro", "residue": 221, "rmsf": 0.13},
      {"series": "Free_PLpro", "residue": 224, "rmsf": 0.15},
      {"series": "Free_PLpro", "residue": 226.5, "rmsf": 0.2},
      {"series": "Free_PLpro", "residue": 228.5, "rmsf": 0.28},
      {"series": "Free_PLpro", "residue": 230.5, "rmsf": 0.23},
      {"series": "Free_PLpro", "residue": 233, "rmsf": 0.25},
      {"series": "Free_PLpro", "residue": 235, "rmsf": 0.19},
      {"series": "Free_PLpro", "residue": 237.5, "rmsf": 0.2},
      {"series": "Free_PLpro", "residue": 240, "rmsf": 0.17},
      {"series": "Free_PLpro", "residue": 242, "rmsf": 0.19},
      {"series": "Free_PLpro", "residue": 243.5, "rmsf": 0.23},
      {"series": "Free_PLpro", "residue": 245, "rmsf": 0.28},
      {"series": "Free_PLpro", "residue": 246, "rmsf": 0.38},
      {"series": "Free_PLpro", "residue": 247.5, "rmsf": 0.57},
      {"series": "Free_PLpro", "residue": 248.5, "rmsf": 0.8},
      {"series": "Free_PLpro", "residue": 249.2, "rmsf": 1.12},
      {"series": "Free_PLpro", "residue": 250, "rmsf": 1.35},
      {"series": "Free_PLpro", "residue": 250.7, "rmsf": 1.46},
      {"series": "Free_PLpro", "residue": 252, "rmsf": 1.43},
      {"series": "Free_PLpro", "residue": 253.3, "rmsf": 1.46},
      {"series": "Free_PLpro", "residue": 254.3, "rmsf": 1.57},
      {"series": "Free_PLpro", "residue": 255, "rmsf": 1.95},
      {"series": "Free_PLpro", "residue": 255.8, "rmsf": 0.21},
      {"series": "Free_PLpro", "residue": 256.8, "rmsf": 0.1},
      {"series": "Free_PLpro", "residue": 258.3, "rmsf": 0.16},
      {"series": "Free_PLpro", "residue": 260, "rmsf": 0.1},
      {"series": "Free_PLpro", "residue": 263.3, "rmsf": 0.07},
      {"series": "Free_PLpro", "residue": 267.5, "rmsf": 0.057},
      {"series": "Free_PLpro", "residue": 272.5, "rmsf": 0.057},
      {"series": "Free_PLpro", "residue": 277.5, "rmsf": 0.05},
      {"series": "Free_PLpro", "residue": 282.5, "rmsf": 0.07},
      {"series": "Free_PLpro", "residue": 286, "rmsf": 0.05},
      {"series": "Free_PLpro", "residue": 292.5, "rmsf": 0.05},
      {"series": "Free_PLpro", "residue": 297.5, "rmsf": 0.065},
      {"series": "Free_PLpro", "residue": 302.5, "rmsf": 0.09},
      {"series": "Free_PLpro", "residue": 304.5, "rmsf": 0.14},
      {"series": "Free_PLpro", "residue": 306, "rmsf": 0.09},
      {"series": "Free_PLpro", "residue": 308.3, "rmsf": 0.12},
      {"series": "Free_PLpro", "residue": 311.7, "rmsf": 0.08},
      {"series": "Free_PLpro", "residue": 316, "rmsf": 0.05},
      {"series": "Free_PLpro", "residue": 319, "rmsf": 0.057},
      {"series": "Free_PLpro", "residue": 322.5, "rmsf": 0.09},
      {"series": "Free_PLpro", "residue": 325.8, "rmsf": 0.12},
      {"series": "Free_PLpro", "residue": 327.5, "rmsf": 0.07},
      {"series": "Free_PLpro", "residue": 330.8, "rmsf": 0.1},
      {"series": "Free_PLpro", "residue": 334, "rmsf": 0.09},
      {"series": "Free_PLpro", "residue": 337, "rmsf": 0.057}
    ]
  },
  "mark": {"type": "line", "strokeWidth": 3.5, "interpolate": "monotone", "clip": true},
  "encoding": {
    "x": {
      "field": "residue",
      "type": "quantitative",
      "scale": {"domain": [0, 340], "nice": false},
      "axis": {
        "title": "Residues Number",
        "values": [0, 50, 100, 150, 200, 250, 300],
        "labelPadding": 12,
        "titlePadding": 25
      }
    },
    "y": {
      "field": "rmsf",
      "type": "quantitative",
      "scale": {"domain": [0, 2], "nice": false},
      "axis": {
        "title": "RMSF (nm)",
        "values": [0, 0.2, 0.4, 0.6, 0.8, 1, 1.2, 1.4, 1.6, 1.8, 2],
        "format": "~g",
        "labelPadding": 10,
        "titlePadding": 10
      }
    },
    "color": {
      "field": "series",
      "type": "nominal",
      "scale": {
        "domain": ["PLpro_Catechin", "PLpro_Nigbeauvin A", "Plpro_Dihydroaltersolanol C", "Free_PLpro"],
        "range": ["#000000", "#FF0000", "#00B050", "#0070C0"]
      },
      "legend": {
        "orient": "none",
        "legendX": 151,
        "legendY": -24,
        "title": null,
        "padding": 0,
        "symbolType": "stroke",
        "symbolSize": 1936,
        "symbolStrokeWidth": 4,
        "labelFont": "DejaVu Serif",
        "labelFontWeight": "bold",
        "labelFontSize": 18,
        "labelColor": "#000000",
        "labelOffset": 4,
        "labelLimit": 0,
        "rowPadding": -13
      }
    }
  },
  "config": {
    "view": {"stroke": null},
    "axis": {
      "grid": false,
      "domainColor": "#8C8C8C",
      "tickColor": "#8C8C8C",
      "tickSize": 6,
      "labelFont": "DejaVu Sans",
      "labelFontSize": 18,
      "labelColor": "#000000",
      "titleFont": "DejaVu Serif",
      "titleFontWeight": "bold",
      "titleFontSize": 18,
      "titleColor": "#000000"
    }
  }
}
